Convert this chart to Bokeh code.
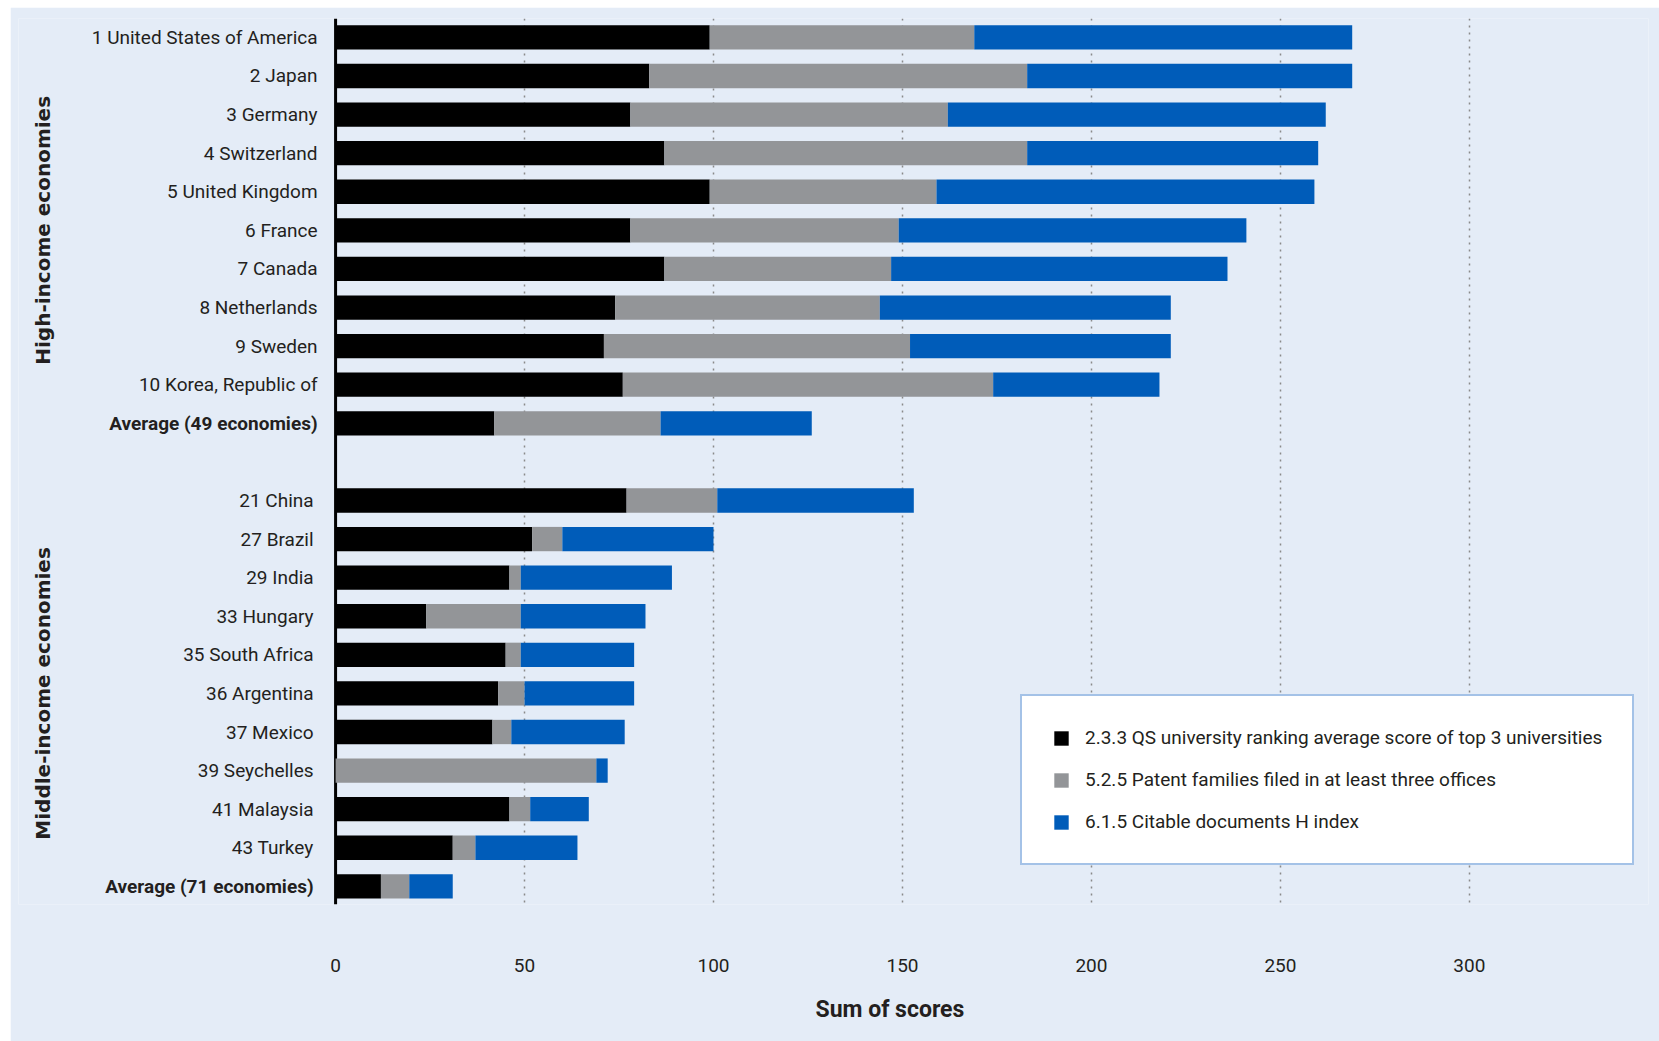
from bokeh.plotting import figure
from bokeh.models import Range1d, FixedTicker, Span, Legend, LegendItem, ColumnDataSource, Title
from bokeh.core.properties import value
from bokeh.embed import file_html
from bokeh.resources import INLINE
import math

high_names = ["1 United States of America", "2 Japan", "3 Germany", "4 Switzerland",
              "5 United Kingdom", "6 France", "7 Canada", "8 Netherlands", "9 Sweden",
              "10 Korea, Republic of", "Average (49 economies)"]
high_qs = [99, 83, 78, 87, 99, 78, 87, 74, 71, 76, 42]
high_patent = [70, 100, 84, 96, 60, 71, 60, 70, 81, 98, 44]
high_hindex = [100, 86, 100, 77, 100, 92, 89, 77, 69, 44, 40]

mid_names = ["21 China", "27 Brazil", "29 India", "33 Hungary", "35 South Africa",
             "36 Argentina", "37 Mexico", "39 Seychelles", "41 Malaysia", "43 Turkey",
             "Average (71 economies)"]
mid_qs = [77, 52, 46, 24, 45, 43, 41.5, 0, 46, 31, 12]
mid_patent = [24, 8, 3, 25, 4, 7, 5, 69, 5.5, 6, 7.5]
mid_hindex = [52, 40, 40, 33, 30, 29, 30, 3, 15.5, 27, 11.5]

group_labels = ["High-income economies", "Middle-income economies"]
series_labels = ["2.3.3 QS university ranking average score of top 3 universities",
                 "5.2.5 Patent families filed in at least three offices",
                 "6.1.5 Citable documents H index"]
x_ticks = [0, 50, 100, 150, 200, 250, 300]
x_title = "Sum of scores"

FONT = "Roboto"
BG = "#E4ECF7"
TXT = "#231F20"
C_BLACK = "#000000"
C_GRAY = "#939598"
C_BLUE = "#005CB9"

names = high_names + mid_names
qs = high_qs + mid_qs
pat = high_patent + mid_patent
hix = high_hindex + mid_hindex
n_high = len(high_names)
ys = list(range(n_high)) + [n_high + 1 + i for i in range(len(mid_names))]

r1 = qs
r2 = [a + b for a, b in zip(qs, pat)]
r3 = [a + b for a, b in zip(r2, hix)]

src = ColumnDataSource(dict(y=ys, l1=[0] * len(qs), r1=r1, r2=r2, r3=r3))

p = figure(width=1649, height=1034, output_backend="svg", toolbar_location=None,
           x_range=Range1d(-83.9, 347.4), y_range=Range1d(22.47, -0.49),
           min_border_left=8, min_border_right=11, min_border_top=11, min_border_bottom=136)
p.margin = (7, 0, 0, 10)
p.background_fill_color = BG
p.border_fill_color = BG
p.outline_line_color = None

p.yaxis.visible = False
p.ygrid.visible = False
p.xgrid.ticker = FixedTicker(ticks=x_ticks[1:])
p.xgrid.grid_line_color = "#8a8a8a"
p.xgrid.grid_line_dash = "2 5"
p.xgrid.grid_line_width = 1.5

xa = p.xaxis[0]
xa.ticker = FixedTicker(ticks=x_ticks)
xa.axis_line_color = None
xa.major_tick_line_color = None
xa.minor_tick_line_color = None
xa.major_label_standoff = 48
xa.major_label_text_font = FONT
xa.major_label_text_font_size = "19px"
xa.major_label_text_color = TXT

title = Title(text=x_title, align="left", offset=797, text_font=FONT, text_font_size="23px",
              text_font_style="bold", text_color=TXT, standoff=38)
p.add_layout(title, "below")

axis_line = Span(location=0, dimension="height", line_color="black", line_width=3, level="underlay")
p.add_layout(axis_line)

h = 0.63
rb = p.hbar(y="y", left="l1", right="r1", height=h, source=src, fill_color=C_BLACK, line_color=None)
rg = p.hbar(y="y", left="r1", right="r2", height=h, source=src, fill_color=C_GRAY, line_color=None)
rbl = p.hbar(y="y", left="r2", right="r3", height=h, source=src, fill_color=C_BLUE, line_color=None)

def offs(i):
    return -18 if i < n_high else -22

norm_idx = [i for i, n in enumerate(names) if not n.startswith("Average")]
bold_idx = [i for i, n in enumerate(names) if n.startswith("Average")]
src_n = ColumnDataSource(dict(y=[ys[i] for i in norm_idx], name=[names[i] for i in norm_idx],
                              xoff=[offs(i) for i in norm_idx]))
src_b = ColumnDataSource(dict(y=[ys[i] for i in bold_idx], name=[names[i] for i in bold_idx],
                              xoff=[offs(i) for i in bold_idx]))
p.text(x=0, y="y", text="name", source=src_n, x_offset="xoff", text_align="right",
       text_baseline="middle", text_font=value(FONT), text_font_size="19px",
       text_color=TXT)
p.text(x=0, y="y", text="name", source=src_b, x_offset="xoff", text_align="right",
       text_baseline="middle", text_font=value(FONT), text_font_size="19px",
       text_font_style="bold", text_color=TXT)

gy = [(n_high - 1) / 2, n_high + 1 + (len(mid_names) - 1) / 2]
p.text(x=-77.5, y=gy, text=group_labels, angle=math.pi / 2, text_align="center",
       text_baseline="middle", text_font=value("DejaVu Sans"), text_font_size="20px",
       text_font_style="bold", text_color=TXT)

legend = Legend(items=[LegendItem(label=series_labels[0], renderers=[rb]),
                       LegendItem(label=series_labels[1], renderers=[rg]),
                       LegendItem(label=series_labels[2], renderers=[rbl])],
                location=(1002, 39))
legend.glyph_width = 18
legend.glyph_height = 18
legend.label_height = 20
legend.spacing = 19
legend.padding = 30
legend.label_standoff = 15
legend.label_text_font = FONT
legend.label_text_font_size = "19px"
legend.label_text_color = TXT
legend.border_line_color = "#4A86D0"
legend.border_line_width = 2
legend.background_fill_color = "white"
legend.background_fill_alpha = 1
p.add_layout(legend)

open("out.html", "w").write(file_html(p, INLINE))
